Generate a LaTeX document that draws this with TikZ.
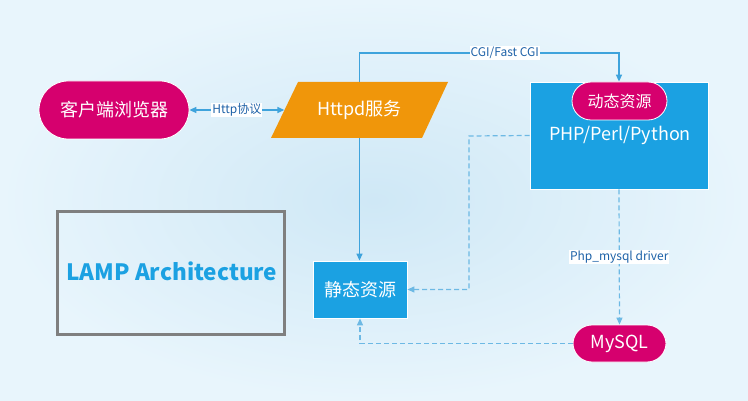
\documentclass[tikz,border=0pt]{standalone}
\usepackage{fontspec}
\setmainfont{Noto Sans CJK SC}
\usetikzlibrary{arrows.meta}
\definecolor{lampblue}{HTML}{1BA1E2}
\definecolor{lampmagenta}{HTML}{D6006E}
\definecolor{lamporange}{HTML}{F0960A}
\definecolor{lampline}{HTML}{3EA3DC}
\definecolor{lampdash}{HTML}{6DB9E4}
\definecolor{lamplabel}{HTML}{1E62A8}
\definecolor{lampgray}{HTML}{7F7F7F}
\definecolor{lampbgin}{HTML}{CFE8F6}
\definecolor{lampbgout}{HTML}{E8F5FC}
\begin{document}
\begin{tikzpicture}[x = 1pt, y = -1pt, >={Triangle[length=7pt, width=6pt]},
		pill/.style = {rounded corners = 19pt, fill = lampmagenta, draw = white, line width = 0.8pt, text = white, inner sep = 0pt},
		bluebox/.style = {fill = lampblue, draw = white, line width = 0.8pt, text = white, inner sep = 0pt},
		lbl/.style = {fill = white, text = lamplabel, inner sep = 1pt, font = \fontsize{12}{13}\selectfont},
		link/.style = {draw = lampline, line width = 1.4pt},
		dlink/.style = {draw = lampdash, line width = 1.2pt, dash pattern = on 5pt off 3pt}]
		\shade[inner color = lampbgin, outer color = lampbgout] (0, 0) rectangle (748, 401);
		\node[pill, rounded corners = 29pt, minimum width = 150pt, minimum height = 58pt, font = \fontsize{18}{20}\selectfont] (client) at (114, 110) {客户端浏览器};
		\fill[lamporange] (271, 138) -- (298, 82) -- (448, 82) -- (422, 138) -- cycle;
		\node[minimum width = 150pt, minimum height = 56pt, inner sep = 0pt, text = white, font = \fontsize{18}{20}\selectfont] (httpd) at (359.5, 110) {Httpd服务};
		\node[bluebox, minimum width = 178pt, minimum height = 107pt] (php) at (619, 135.5) {};
		\node[text = white, font = \fontsize{18}{20}\selectfont] (phptext) at (620, 135) {PHP/Perl/Python};
		\node[pill, minimum width = 95pt, minimum height = 38pt, font = \fontsize{16}{18}\selectfont] (dynamic) at (619.5, 101) {动态资源};
		\node[bluebox, minimum width = 94pt, minimum height = 57pt, font = \fontsize{18}{20}\selectfont] (static) at (360, 289.5) {静态资源};
		\node[pill, minimum width = 93pt, minimum height = 37pt, font = \fontsize{18}{20}\selectfont] (mysql) at (619.5, 343.5) {MySQL};
		\node[draw = lampgray, line width = 3pt, minimum width = 227pt, minimum height = 123pt, inner sep = 0pt] (lamp) at (171, 273) {};
		\node[text = lampblue, font = \bfseries\fontsize{22.5}{26}\selectfont] (lamptitle) at (172, 271) {LAMP Architecture};
		\coordinate (cgi) at (359.5, 53);
		\coordinate (php bend) at (469, 136);
		\draw[link, <->] (client) -- node[lbl] {Http协议} (httpd);
		\draw[link, ->] (httpd.north) -- (cgi) -| node[lbl, pos = 0.28] {CGI/Fast CGI} (php.north);
		\draw[link, ->] (httpd.south) -- (static.north -| httpd.south);
		\draw[dlink, ->] (php.west) -- (php bend) |- (static.east);
		\draw[dlink, ->] (php.south) -- node[lbl] {Php\_mysql driver} (mysql.north);
		\draw[dlink, ->] (mysql.west) -| (static.south);
\end{tikzpicture}
\end{document}
